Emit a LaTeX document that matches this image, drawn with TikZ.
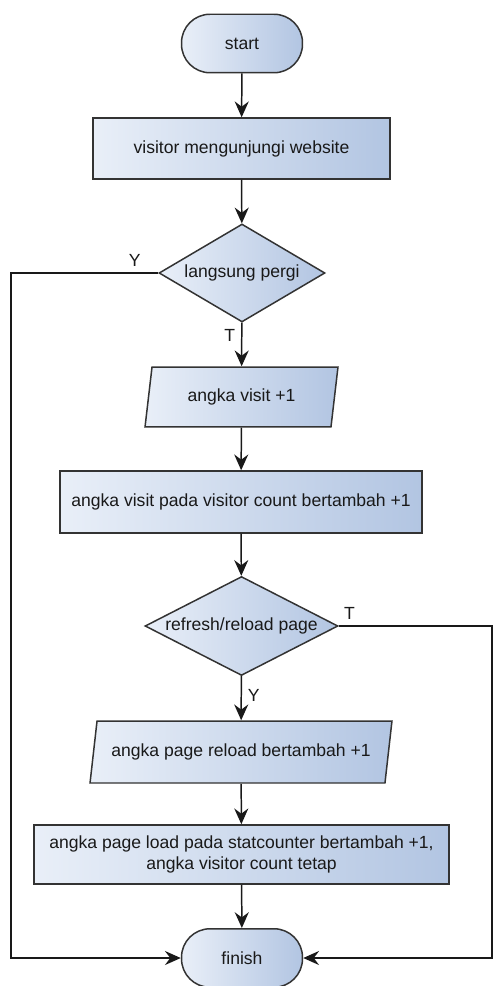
\documentclass[tikz,border=0pt]{standalone}
\usepackage{fontspec}
\setmainfont{Liberation Sans}
\usetikzlibrary{shapes.geometric,arrows.meta}
\definecolor{fillL}{HTML}{E9EFF8}
\definecolor{fillR}{HTML}{B2C5E2}
\definecolor{edge}{HTML}{333333}

\begin{document}
\begin{tikzpicture}[x=0.02cm, y=-0.02cm,
        font=\fontsize{10}{12}\selectfont,
        blueshade/.style={draw=edge, line width=0.85pt, left color=fillL, right color=fillR, text=black!90},
        termbox/.style={blueshade, rectangle, rounded corners=0.57cm, minimum width=2.42cm, minimum height=1.17cm},
        procbox/.style={blueshade, rectangle, minimum height=1.22cm},
        iobox/.style={blueshade, trapezium, trapezium left angle=76, trapezium right angle=104, trapezium stretches body, minimum height=1.2cm},
        decbox/.style={blueshade, diamond, inner sep=0pt},
        flow/.style={draw=black!90, line width=0.85pt, -{Stealth[length=9pt, width=8pt, inset=3pt]}},
        lbl/.style={text=black!90}]
        \useasboundingbox (0,0) rectangle (497,986);
        % shapes
        \node[termbox] (start) at (242,43.5) {start};
        \node[procbox, minimum width=5.94cm] (visit) at (241.5,148.5) {visitor mengunjungi website};
        \node[decbox, aspect=1.69, minimum width=3.32cm, minimum height=1.96cm] (pergi) at (242,273) {langsung pergi};
        \node[iobox, minimum width=3.86cm] (angka) at (241.5,397) {angka visit +1};
        \node[procbox, minimum width=7.24cm, minimum height=1.24cm] (count) at (241,502) {angka visit pada visitor count bertambah +1};
        \node[decbox, aspect=1.95, minimum width=3.86cm, minimum height=1.98cm] (reload) at (241.5,626) {refresh/reload page};
        \node[iobox, minimum width=6.04cm, minimum height=1.24cm] (pagereload) at (241,752) {angka page reload bertambah +1};
        \node[procbox, minimum width=8.3cm, minimum height=1.18cm, align=center] (statload) at (241.5,854.5) {angka page load pada statcounter bertambah +1,\\angka visitor count tetap};
        \node[termbox] (finish) at (242,958) {finish};
        % turning points
        \coordinate (lft) at (11,958);
        \coordinate (rgt) at (492,958);
        % connectors
        \draw[flow] (start) -- (visit);
        \draw[flow] (visit) -- (pergi);
        \draw[flow] (pergi) -- node[lbl, left, pos=0.3] {T} (angka);
        \draw[flow] (angka) -- (count);
        \draw[flow] (count) -- (reload);
        \draw[flow] (reload) -- node[lbl, right, pos=0.43] {Y} (pagereload);
        \draw[flow] (pagereload) -- (statload);
        \draw[flow] (statload) -- (finish);
        \draw[flow] (pergi.west) -- node[lbl, above, pos=0.16] {Y} (pergi.west -| lft) -- (lft) -- (finish.west);
        \draw[flow] (reload.east) -- node[lbl, above, pos=0.07] {T} (reload.east -| rgt) -- (rgt) -- (finish.east);
    \end{tikzpicture}
\end{document}
